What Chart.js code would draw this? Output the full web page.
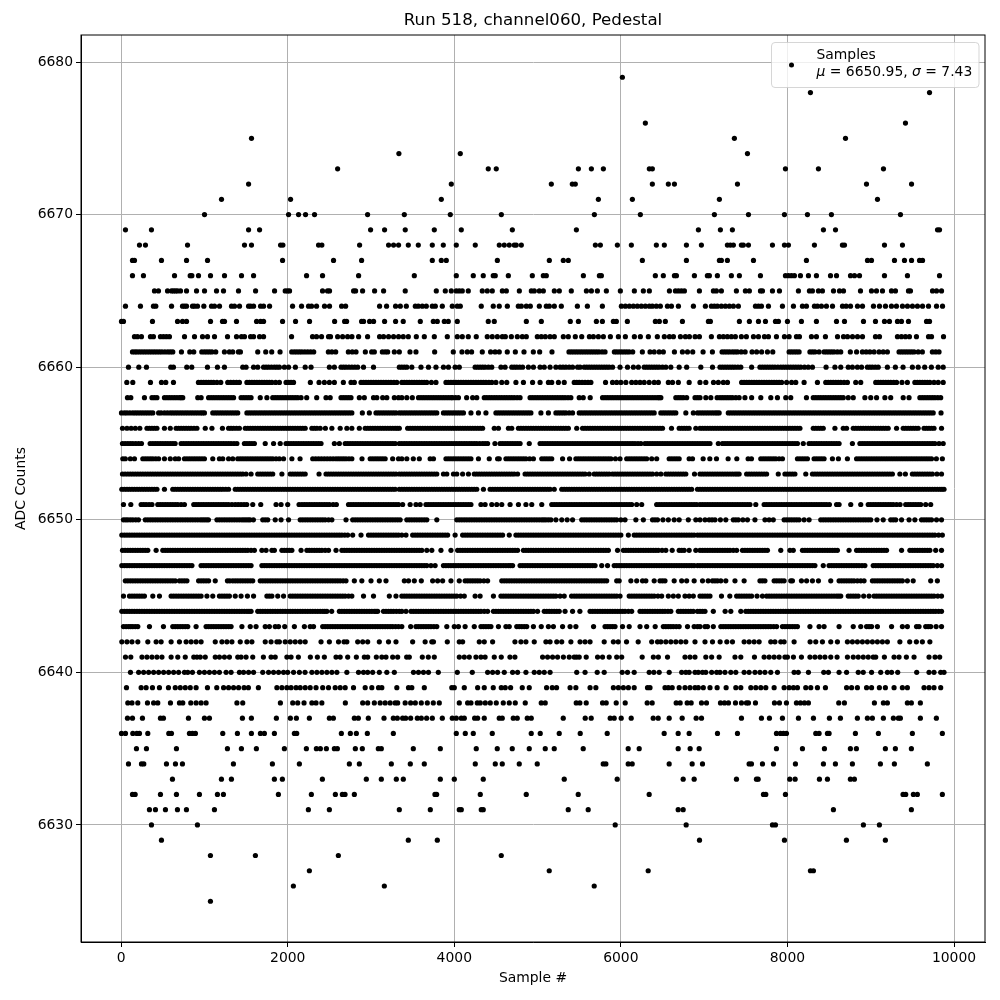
<!DOCTYPE html>
<html><head><meta charset="utf-8">
<script src="https://cdn.jsdelivr.net/npm/chart.js@4/dist/chart.umd.min.js"></script>
<style>html,body{margin:0;padding:0;background:#fff}#w{position:relative;width:1000px;height:1000px}</style>
</head><body><div id="w"><canvas id="c" width="1000" height="1000"></canvas></div>
<script>
const titleText="Run 518, channel060, Pedestal";
const xLabel="Sample #";
const yLabel="ADC Counts";
const legendName="Samples";
const meanText="6650.95";
const sigmaText="7.43";
const xTicks=[0,2000,4000,6000,8000,10000];
const yTicks=[6630,6640,6650,6660,6670,6680];
const a6679=[6018];
const a6678=[8276,9706];
const a6676=[6294,9417];
const a6675=[1565,7363,8697];
const a6674=[3335,4072,7520];
const a6673=[2599,4408,4504,5490,5646,5790,6342,6378,7976,8372,9153];
const a6672=[1530,3964,5165,5417,5453,6378,6570,6643,7400,8949,9490];
const a6671=[1205,2034,3844,5730,6138,7183,9081];
const a6670=[1001,2010,2130,2214,2322,2959,3400,3952,4565,5682,6234,7123,7532,7964,8240,8528,9357];
const a6669=[52,364,1530,1662,2995,3163,3411,3760,4084,4697,5466,6931,7195,7339,8432,8577,9802,9826];
const a6668=[220,292,797,1481,1565,1914,1942,2370,2410,2863,3211,3271,3331,3448,3568,3736,3868,4024,4252,4540,4600,4660,4720,4744,4805,5694,5754,5958,6126,6426,6522,6787,6967,7279,7315,7351,7447,7471,7532,7820,7964,8012,8324,8660,8685,9165,9381];
const a6667=[136,160,484,785,1037,1938,2550,2887,3736,3844,3904,4517,5141,5309,5369,6258,6787,7183,7207,7279,7592,8228,8961,9009,9285,9405,9490,9586,9622];
const a6666=[136,268,641,829,849,929,1073,1241,1445,1590,2226,2418,2851,3520,4024,4228,4348,4468,4492,4649,4937,5069,5105,5550,5742,5766,6414,6510,6643,6667,6883,7039,7063,7159,7327,7423,7676,7976,8012,8048,8084,8156,8252,8348,8517,8589,8757,8805,8865,9165,9441,9826];
const a6665=[400,448,557,605,629,653,677,713,785,905,1001,1145,1229,1409,1614,1842,1970,1998,2022,2418,2478,2502,2791,2815,2899,3043,3151,3411,3784,3892,3964,4024,4060,4096,4168,4336,4396,4456,4577,4625,4781,4925,4961,5021,5069,5201,5261,5405,5586,5646,5718,5826,5994,6162,6270,6342,6583,6655,6691,6727,6763,6943,7111,7147,7207,7387,7495,7543,7676,7700,7820,7904,8132,8264,8300,8372,8420,8553,8625,8673,8877,9009,9069,9141,9249,9297,9453,9477,9742,9790,9850];
const a6664=[52,232,388,416,605,737,761,785,857,881,917,993,1085,1121,1181,1325,1361,1421,1530,1554,1590,1674,1710,1782,2058,2166,2250,2286,2346,2442,2502,2647,2695,3103,3187,3295,3352,3424,3532,3568,3616,3664,3736,3772,3856,3976,4036,4072,4324,4468,4540,4637,4769,4805,4865,4913,5021,5105,5141,5201,5285,5478,5598,5778,6006,6054,6102,6150,6198,6246,6294,6342,6378,6426,6474,6559,6607,6691,6871,7015,7087,7123,7159,7207,7255,7303,7351,7411,7616,7652,7688,7772,7940,8072,8180,8228,8324,8360,8408,8468,8541,8661,8705,8757,8841,8901,9033,9105,9177,9249,9309,9381,9441,9501,9561,9622,9694,9790,9862];
const a6663=[4,28,376,677,737,785,1073,1217,1241,1385,1626,1674,1710,1938,2094,2262,2563,2683,2707,2887,2911,2983,3031,3163,3295,3387,3592,3748,3796,3880,3928,4036,4408,4480,4865,5045,5393,5490,5706,5778,5910,5946,6078,6414,6462,6534,6739,7051,7075,7423,7543,7652,7736,7856,7892,8000,8168,8348,8589,8685,8913,9057,9165,9225,9321,9369,9453,9670,9706];
const a6662=[160,196,244,352,388,472,508,544,580,761,881,977,1037,1121,1277,1385,1445,1481,1554,1590,1662,1710,2046,2298,2346,2406,2490,2514,2599,2659,2719,2771,2851,2959,3103,3151,3211,3271,3331,3387,3448,3544,3640,3760,3916,4036,4096,4168,4264,4396,4456,4517,4577,4613,4685,4757,4817,4865,4997,5045,5093,5149,5201,5309,5369,5453,5530,5622,5670,5730,5790,5874,5970,6054,6162,6234,6330,6438,6522,6583,6631,6715,6775,6823,6891,6943,7087,7183,7231,7279,7327,7375,7447,7507,7592,7652,7724,7772,7868,7964,8020,8108,8144,8288,8348,8456,8601,8673,8721,8781,8841,8901,9057,9105,9321,9369,9417,9465,9549,9694,9730,9874];
const a6661=[136,165,190,220,250,280,310,340,370,400,430,460,490,525,560,590,620,724,824,872,968,1000,1030,1060,1090,1136,1240,1300,1340,1408,1432,1640,1736,1808,1908,2048,2080,2110,2140,2170,2205,2240,2275,2312,2488,2530,2576,2728,2775,2820,2932,3008,3040,3136,3170,3200,3280,3340,3468,3540,3764,3988,4092,4156,4208,4336,4436,4490,4540,4636,4733,4837,4949,5025,5173,5377,5407,5437,5467,5497,5527,5557,5587,5617,5647,5677,5707,5737,5775,5810,5922,5950,5980,6010,6040,6070,6100,6142,6258,6350,6400,6460,6510,6643,6739,6800,6863,6987,7099,7215,7245,7275,7305,7340,7370,7400,7445,7492,7575,7630,7690,7760,7824,8020,8050,8080,8110,8140,8270,8300,8330,8380,8440,8470,8500,8530,8560,8600,8640,8755,8830,8900,8945,8990,9040,9100,9150,9200,9340,9370,9400,9430,9460,9490,9520,9570,9620,9740,9780,9820];
const a6660=[88,212,304,596,628,788,848,1036,1156,1240,1460,1500,1590,1640,1710,1740,1770,1805,1840,1870,1900,1960,2010,2092,2210,2280,2500,2560,2640,2670,2700,2735,2770,2805,2840,2910,3030,3340,3370,3400,3430,3490,3600,3690,3780,3870,3930,4010,4060,4250,4280,4310,4340,4370,4410,4450,4560,4610,4690,4720,4750,4785,4820,4890,4950,5030,5080,5150,5220,5270,5305,5340,5380,5420,5480,5510,5560,5590,5620,5650,5680,5710,5740,5770,5800,5830,5860,5900,5990,6080,6150,6210,6280,6310,6340,6370,6400,6430,6460,6500,6540,6600,6700,6790,6960,7100,7190,7220,7250,7280,7310,7340,7370,7405,7440,7570,7670,7700,7730,7760,7790,7820,7850,7885,7920,7950,7980,8010,8040,8070,8100,8130,8160,8205,8250,8300,8464,8570,8640,8730,8780,8840,8890,8960,8990,9020,9055,9090,9200,9296,9388,9500,9570,9648,9728,9810,9870];
const a6659=[68,140,352,484,536,628,928,960,990,1020,1050,1080,1110,1150,1196,1280,1315,1350,1385,1420,1510,1540,1570,1600,1630,1660,1690,1720,1750,1780,1810,1855,1900,1980,2010,2040,2070,2272,2376,2440,2500,2560,2668,2760,2800,2880,2910,2940,2970,3000,3030,3060,3090,3120,3150,3180,3210,3240,3275,3310,3370,3400,3430,3460,3490,3520,3550,3580,3610,3640,3670,3725,3780,3900,3930,3960,3990,4020,4050,4080,4110,4140,4170,4200,4230,4260,4290,4320,4350,4380,4415,4450,4500,4570,4630,4740,4830,4940,5030,5130,5170,5250,5320,5440,5470,5500,5535,5570,5605,5640,5816,5900,5950,6000,6060,6130,6180,6230,6280,6340,6400,6450,6570,6620,6690,6820,6950,7020,7112,7170,7230,7280,7450,7480,7510,7540,7570,7600,7630,7660,7690,7720,7750,7780,7810,7840,7870,7900,7930,7990,8050,8100,8200,8360,8460,8490,8520,8550,8580,8610,8640,8680,8720,8820,8880,9060,9090,9120,9150,9180,9210,9240,9275,9310,9375,9440,9530,9560,9590,9620,9650,9680,9710,9760,9810,9870];
const a6658=[76,116,280,370,430,520,580,640,700,740,920,960,1050,1110,1170,1230,1290,1350,1440,1500,1560,1670,1750,1820,1880,1940,2000,2060,2120,2160,2228,2348,2460,2510,2640,2700,2760,2860,2920,3030,3070,3140,3190,3280,3330,3370,3430,3496,3570,3630,3690,3750,3810,3870,3930,3980,4050,4148,4220,4270,4360,4420,4480,4540,4600,4660,4720,4790,4910,4970,5030,5090,5150,5210,5270,5330,5400,5500,5548,5632,5780,5840,5900,5960,6020,6080,6140,6200,6260,6320,6380,6440,6480,6660,6720,6790,6890,6920,6950,7020,7080,7156,7220,7280,7340,7420,7490,7570,7680,7800,7880,7980,8040,8228,8310,8370,8430,8490,8550,8610,8670,8790,8930,9000,9070,9170,9240,9390,9460,9590,9650,9710,9770,9840,
 400,550,610,670,720,1080,1140,1200,1260,1320,1470,1530,1850,1910,1970,2030,2090,2670,2730,3600,3660,3720,3780,3840,3900,3960,4015,4390,4450,4510,4570,4630,4690,4755,4940,5000,5060,5120,5180,5240,5300,5365,5810,5870,5930,5990,6050,6110,6170,6230,6290,6350,6410,6460,6690,6750,7190,7250,7310,7380,8340,8400,8460,8520,8580,8640,8730,9620,9680,9740,9805];
const a6657=[4,70,140,200,260,320,380,450,520,590,650,710,770,830,890,950,1000,1100,1160,1220,1280,1340,1400,1510,1570,1630,1690,1750,1810,1870,1930,1990,2050,2110,2170,2230,2290,2350,2410,2470,2530,2590,2650,2710,2770,2896,2980,3060,3120,3180,3240,3300,3340,3370,3430,3490,3550,3610,3670,3730,3790,3870,3930,3990,4050,4110,4200,4290,4380,4500,4560,4620,4680,4740,4800,4860,4920,5040,5130,5220,5280,5340,5420,5500,5560,5620,5680,5740,5800,5860,5920,5980,6040,6100,6160,6220,6280,6340,6400,6480,6540,6600,6660,6780,6870,6920,6950,7010,7070,7130,7180,7290,7350,7410,7470,7530,7590,7650,7710,7770,7830,7890,7950,8010,8070,8130,8190,8250,8310,8370,8430,8490,8550,8610,8670,8730,8790,8850,8910,8970,9030,9090,9150,9210,9270,9330,9390,9450,9510,9570,9630,9690,9750,9844,
 40,105,170,230,290,350,480,555,620,680,740,800,860,920,975,1130,1190,1250,1310,1370,1540,1600,1660,1720,1780,1840,1900,1960,2020,2080,2140,2200,2260,2320,2380,2440,2500,2560,2620,2680,2740,3090,3150,3210,3270,3400,3460,3520,3580,3640,3700,3760,3900,3960,4020,4080,4530,4590,4650,4710,4770,4830,4890,5250,5310,5380,5530,5590,5650,5710,5770,5830,5890,5950,6010,6070,6130,6190,6250,6310,6370,6510,6570,6630,6980,7040,7100,7155,7320,7380,7440,7500,7560,7620,7680,7740,7800,7860,7920,7980,8040,8100,8160,8220,8280,8340,8400,8460,8520,8580,8640,8700,8760,8820,8880,8940,9000,9060,9120,9180,9240,9300,9360,9420,9480,9540,9600,9660,9720];
const a6656=[16,70,120,170,224,310,370,430,520,590,660,720,780,840,910,1010,1090,1216,1290,1350,1420,1490,1550,1610,1670,1730,1790,1850,1910,1970,2030,2090,2150,2210,2290,2350,2390,2452,2530,2630,2710,2770,2860,2930,2990,3050,3110,3170,3230,3290,3340,3440,3500,3560,3620,3680,3740,3800,3860,3920,3980,4040,4100,4160,4220,4280,4340,4480,4530,4650,4690,4770,4830,4890,4950,5010,5070,5130,5190,5250,5310,5370,5470,5540,5600,5660,5720,5780,5840,5900,5960,6020,6080,6140,6200,6260,6320,6380,6440,6500,6608,6700,6760,6820,6900,6950,7010,7070,7130,7190,7250,7310,7370,7430,7490,7550,7610,7670,7730,7790,7850,7910,7970,8030,8090,8150,8310,8370,8430,8570,8670,8710,8790,8850,8910,8970,9030,9090,9150,9210,9310,9390,9450,9510,9570,9640,9700,9760,9850,
 340,400,690,750,810,875,1320,1385,1520,1580,1640,1700,1760,1820,1880,1940,2000,2060,2120,2180,2320,2960,3020,3080,3140,3200,3260,3315,3470,3530,3590,3650,3710,3770,3830,3890,3950,4010,4070,4130,4190,4250,4310,4800,4860,4920,4980,5040,5100,5160,5220,5280,5340,5570,5630,5690,5750,5810,5870,5930,5990,6050,6110,6170,6230,6290,6350,6410,6470,6730,6790,6980,7040,7100,7160,7220,7280,7340,7400,7460,7520,7580,7640,7700,7760,7820,7880,7940,8000,8060,8120,8340,8400,8820,8880,8940,9000,9060,9120,9180,9420,9480,9540,9670,9730];
const a6655=[16,80,140,210,244,348,410,470,530,590,648,720,780,840,900,960,1020,1080,1140,1200,1260,1320,1390,1480,1540,1600,1730,1830,1910,1980,2040,2100,2160,2220,2280,2340,2400,2560,2620,2690,2750,2810,2870,2930,2990,3050,3110,3170,3230,3290,3340,3370,3430,3490,3550,3610,3670,3730,3790,3850,3910,3970,4030,4090,4150,4210,4270,4340,4400,4488,4550,4610,4670,4730,4790,4900,5030,5090,5150,5210,5270,5330,5390,5450,5510,5570,5630,5690,5750,5810,5870,5930,5990,6050,6110,6170,6240,6290,6350,6410,6470,6530,6590,6650,6710,6770,6830,6890,6920,6950,7010,7070,7170,7220,7280,7340,7400,7460,7520,7580,7640,7700,7760,7820,7880,7940,8000,8060,8120,8190,8260,8320,8380,8440,8500,8560,8620,8780,8870,8930,8990,9050,9110,9170,9230,9290,9350,9410,9470,9530,9590,9650,9710,9770,9870,
 48,110,175,380,440,500,560,620,750,810,870,930,990,1050,1110,1170,1230,1290,1355,1510,1570,2010,2070,2130,2190,2250,2310,2370,2720,2780,2840,2900,2960,3020,3080,3140,3200,3260,3400,3460,3520,3580,3640,3700,3760,3820,3880,3940,4000,4060,4120,4180,4240,4305,4370,4580,4640,4700,4760,5060,5120,5180,5240,5300,5360,5420,5480,5540,5600,5660,5720,5780,5840,5900,5960,6020,6080,6140,6205,6320,6380,6440,6500,6560,6620,6680,6740,6800,6860,6980,7040,7250,7310,7370,7430,7490,7550,7610,7670,7730,7790,7850,7910,7970,8030,8090,8290,8350,8410,8470,8530,8590,8900,8960,9020,9080,9140,9200,9260,9320,9380,9440,9500,9560,9620,9680,9740,9820];
const a6654=[20,50,110,160,260,320,380,450,520,590,650,690,760,820,880,940,1000,1100,1180,1220,1290,1340,1400,1460,1520,1580,1640,1700,1760,1820,1900,1950,2050,2148,2300,2370,2440,2510,2580,2640,2700,2770,2892,2990,3050,3110,3170,3260,3330,3370,3430,3508,3580,3710,3750,3900,3960,4020,4080,4140,4200,4290,4420,4520,4540,4620,4680,4740,4800,4860,4950,5050,5110,5170,5300,5384,5460,5520,5580,5640,5700,5760,5820,5880,5990,6070,6130,6190,6250,6310,6430,6580,6640,6700,6820,6860,6988,7068,7148,7288,7392,7528,7568,7680,7740,7800,7860,7940,8120,8180,8240,8320,8380,8440,8540,8612,8720,8830,8890,8950,9010,9070,9130,9190,9250,9310,9370,9430,9490,9550,9610,9670,9730,9788,9860,
 290,350,415,790,850,910,970,1430,1490,1550,1610,1670,1730,1790,1860,2335,2405,2475,2545,2610,2670,2735,3020,3080,3140,3930,3990,4050,4110,4170,4650,4710,4770,4830,4905,5080,5140,5490,5550,5610,5670,5730,5790,5850,5935,6100,6160,6220,6280,6370,6610,6670,7710,7770,7830,7900,8150,8210,8350,8410,8860,8920,8980,9040,9100,9160,9220,9280,9340,9400,9460,9520,9580,9640,9700];
const a6653=[16,80,140,200,260,320,380,440,500,560,620,680,740,800,860,920,980,1040,1100,1160,1220,1280,1340,1400,1460,1500,1560,1640,1700,1760,1820,1930,2030,2090,2150,2210,2376,2460,2520,2580,2640,2700,2760,2820,2880,2940,3000,3060,3120,3180,3240,3300,3340,3370,3430,3490,3550,3610,3670,3730,3790,3870,3910,3990,4030,4100,4170,4240,4300,4360,4420,4480,4540,4600,4660,4720,4760,4850,4910,4970,5030,5090,5150,5210,5270,5330,5390,5450,5510,5570,5620,5680,5740,5800,5860,5900,5960,6020,6080,6140,6200,6260,6320,6380,6480,6540,6600,6660,6720,6780,6884,6950,7010,7070,7130,7190,7250,7310,7370,7420,7510,7570,7630,7690,7750,7890,7970,8030,8090,8220,8300,8360,8420,8480,8540,8600,8660,8720,8780,8840,8900,8960,9020,9080,9140,9200,9260,9350,9416,9500,9560,9620,9680,9740,9850,
 48,110,170,230,290,350,410,470,530,590,650,710,770,830,890,950,1010,1070,1130,1190,1250,1310,1370,1430,1670,1730,1790,2060,2120,2180,2490,2550,2610,2670,2730,2790,2850,2910,2970,3030,3090,3150,3210,3270,3400,3460,3520,3580,3640,3700,3760,4270,4330,4390,4450,4510,4570,4630,4690,4880,4940,5000,5060,5120,5180,5240,5300,5360,5420,5480,5540,5710,5770,5830,5930,5990,6050,6110,6170,6230,6290,6350,6430,6570,6630,6690,6750,6980,7040,7100,7160,7220,7280,7340,7395,7540,7600,7660,7720,8000,8060,8330,8390,8450,8510,8570,8630,8690,8750,8810,8870,8930,8990,9050,9110,9170,9230,9530,9590,9650,9710,9795];
const a6652=[8,70,130,190,250,310,370,430,520,620,680,740,800,860,920,980,1040,1100,1160,1220,1290,1370,1430,1490,1550,1610,1670,1730,1790,1850,1910,1970,2030,2090,2150,2210,2270,2330,2390,2450,2510,2570,2630,2690,2750,2810,2870,2930,2990,3050,3110,3170,3230,3290,3340,3370,3430,3490,3550,3610,3670,3730,3790,3850,3910,3970,4030,4090,4150,4210,4270,4350,4430,4490,4550,4610,4670,4730,4790,4850,4910,4970,5030,5090,5150,5200,5290,5350,5410,5470,5530,5590,5650,5710,5770,5830,5890,5950,6010,6070,6130,6190,6250,6310,6370,6430,6490,6550,6610,6670,6730,6790,6850,6920,6950,7010,7070,7130,7190,7250,7310,7370,7430,7490,7550,7610,7670,7730,7790,7850,7910,7970,8030,8090,8150,8210,8270,8330,8390,8450,8510,8570,8630,8690,8750,8810,8870,8930,8990,9050,9110,9170,9230,9290,9350,9410,9470,9530,9590,9650,9710,9770,9830,9880,
 40,100,160,220,280,340,400,650,710,770,830,890,950,1010,1070,1130,1190,1255,1400,1460,1520,1580,1640,1700,1760,1820,1880,1940,2000,2060,2120,2180,2240,2300,2360,2420,2480,2540,2600,2660,2720,2780,2840,2900,2960,3020,3080,3140,3200,3260,3400,3460,3520,3580,3640,3700,3760,3820,3880,3940,4000,4060,4120,4180,4240,4460,4520,4580,4640,4700,4760,4820,4880,4940,5000,5060,5120,5320,5380,5440,5500,5560,5620,5680,5740,5800,5860,5920,5980,6040,6100,6160,6220,6280,6340,6400,6460,6520,6580,6640,6700,6760,6820,6980,7040,7100,7160,7220,7280,7340,7400,7460,7520,7580,7640,7700,7760,7820,7880,7940,8000,8060,8120,8180,8240,8300,8360,8420,8480,8540,8600,8660,8720,8780,8840,8900,8960,9020,9080,9140,9200,9260,9320,9380,9440,9500,9560,9620,9680,9740,9800,9855];
const a6651=[28,116,240,300,370,440,500,560,620,680,760,872,930,990,1050,1110,1170,1230,1290,1370,1440,1508,1580,1676,1860,1920,2000,2136,2200,2260,2320,2380,2440,2500,2584,2730,2790,2850,2910,2970,3030,3090,3150,3210,3270,3330,3380,3470,3540,3590,3660,3720,3780,3840,3900,3960,4020,4080,4140,4200,4320,4370,4450,4510,4570,4670,4770,4860,4930,5050,5170,5230,5290,5350,5410,5470,5530,5590,5650,5710,5770,5830,5890,5950,6010,6070,6130,6190,6250,6430,6490,6550,6610,6670,6730,6790,6850,6910,6950,7010,7070,7130,7190,7250,7310,7370,7430,7490,7550,7620,7720,7780,7840,7900,7960,8020,8080,8140,8200,8260,8320,8380,8440,8504,8590,8620,8760,8880,8970,9030,9090,9150,9210,9270,9352,9420,9480,9540,9600,9720,
 270,335,470,530,590,650,720,900,960,1020,1080,1140,1200,1260,1330,1405,1475,2170,2230,2290,2350,2410,2470,2545,2760,2820,2880,2940,3000,3060,3120,3180,3240,3300,3690,3750,3810,3870,3930,3990,4050,4110,4170,5200,5260,5320,5380,5440,5500,5560,5620,5680,5740,5800,5860,5920,5980,6040,6100,6460,6520,6580,6640,6700,6760,6820,6880,6980,7040,7100,7160,7220,7280,7340,7400,7460,7520,7750,7810,7870,7930,7990,8050,8110,8170,8230,8290,8350,8410,8470,9000,9060,9120,9180,9240,9310,9450,9510,9570,9660];
const a6650=[28,80,140,208,290,350,410,470,530,590,650,710,770,830,890,950,1000,1048,1150,1210,1270,1330,1390,1450,1500,1548,1588,1700,1760,1850,1920,2010,2150,2210,2270,2330,2390,2450,2530,2700,2780,2840,2900,2960,3020,3080,3140,3200,3260,3320,3350,3430,3490,3550,3610,3670,3790,4030,4090,4150,4210,4270,4330,4390,4450,4510,4570,4630,4690,4750,4810,4870,4930,4990,5050,5100,5160,5220,5290,5420,5530,5590,5650,5710,5770,5830,5890,5950,6050,6180,6270,6380,6440,6570,6640,6700,6810,6900,6950,7010,7060,7130,7260,7350,7410,7520,7610,7730,7830,7960,8020,8080,8140,8260,8400,8460,8520,8580,8640,8700,8760,8820,8880,8940,9000,9150,9240,9300,9370,9460,9530,9610,9670,9730,9850,
 55,110,175,320,380,440,500,560,620,680,740,800,860,920,975,1025,1180,1240,1300,1360,1420,1475,1525,1730,2180,2240,2300,2360,2420,2490,2810,2870,2930,2990,3050,3110,3170,3230,3290,3460,3520,3580,3640,4060,4120,4180,4240,4300,4360,4420,4480,4540,4600,4660,4720,4780,4840,4900,4960,5020,5075,5130,5355,5560,5620,5680,5740,5800,5860,5920,6000,6410,6505,7095,7195,7380,7465,7780,7990,8050,8110,8200,8430,8490,8550,8610,8670,8730,8790,8850,8910,8970,9075,9270,9640,9700,9790];
const a6649=[8,70,130,190,250,310,370,430,490,550,610,670,730,790,850,910,970,1030,1090,1150,1210,1270,1330,1390,1450,1510,1570,1630,1690,1750,1810,1870,1930,1990,2050,2110,2170,2230,2290,2350,2410,2470,2530,2590,2650,2720,2780,2880,2970,3030,3090,3150,3210,3270,3330,3370,3420,3500,3560,3620,3680,3740,3800,3860,3920,4010,4100,4160,4220,4280,4340,4400,4460,4520,4580,4660,4740,4800,4860,4920,4980,5040,5100,5160,5220,5280,5340,5400,5460,5520,5580,5640,5700,5760,5820,5880,5940,6000,6090,6160,6220,6280,6340,6400,6460,6520,6580,6640,6700,6760,6820,6880,6920,6950,7010,7070,7130,7190,7250,7310,7370,7430,7490,7550,7610,7670,7730,7790,7850,7910,7970,8030,8090,8150,8210,8270,8330,8390,8450,8510,8570,8630,8690,8750,8810,8870,8930,8990,9050,9110,9170,9230,9290,9350,9410,9470,9530,9590,9650,9710,9770,9860,
 40,100,160,220,280,340,400,460,520,580,640,700,760,820,880,940,1000,1060,1120,1180,1240,1300,1360,1420,1480,1540,1600,1660,1720,1780,1840,1900,1960,2020,2080,2140,2200,2260,2320,2380,2440,2500,2560,2620,2685,3000,3060,3120,3180,3240,3300,3530,3590,3650,3710,3770,3830,3890,4130,4190,4250,4310,4370,4430,4490,4550,4770,4830,4890,4950,5010,5070,5130,5190,5250,5310,5370,5430,5490,5550,5610,5670,5730,5790,5850,5910,5970,6190,6250,6310,6370,6430,6490,6550,6610,6670,6730,6790,6850,6980,7040,7100,7160,7220,7280,7340,7400,7460,7520,7580,7640,7700,7760,7820,7880,7940,8000,8060,8120,8180,8240,8300,8360,8420,8480,8540,8600,8660,8720,8780,8840,8900,8960,9020,9080,9140,9200,9260,9320,9380,9440,9500,9560,9620,9680,9740,9815];
const a6648=[16,80,140,200,260,320,420,500,560,620,680,740,800,860,920,980,1040,1100,1160,1220,1280,1340,1400,1460,1520,1600,1690,1740,1810,1840,1930,1990,2050,2160,2230,2290,2350,2410,2490,2580,2650,2710,2770,2830,2890,2950,3010,3070,3130,3190,3250,3310,3340,3370,3430,3490,3550,3610,3730,3840,3960,4040,4100,4160,4220,4280,4340,4400,4460,4520,4580,4640,4700,4760,4830,4890,4950,5010,5070,5130,5190,5250,5310,5370,5430,5490,5550,5610,5670,5730,5790,5850,5960,6030,6090,6150,6210,6270,6330,6390,6450,6540,6616,6700,6760,6820,6900,6950,7010,7070,7130,7190,7250,7310,7390,7460,7520,7580,7640,7700,7760,7920,8030,8070,8180,8240,8300,8360,8420,8480,8540,8600,8740,8830,8890,8950,9010,9070,9130,9190,9370,9470,9530,9590,9650,9710,9850,
 48,110,170,230,290,530,590,650,710,770,830,890,950,1010,1070,1130,1190,1250,1310,1370,1430,1490,1560,1960,2020,2260,2320,2380,2450,2680,2740,2800,2860,2920,2980,3040,3100,3160,3220,3280,3400,3460,3520,3580,3670,4070,4130,4190,4250,4310,4370,4430,4490,4550,4610,4670,4730,4860,4920,4980,5040,5100,5160,5220,5280,5340,5400,5460,5520,5580,5640,5700,5760,5820,6060,6120,6180,6240,6300,6360,6420,6495,6730,6980,7040,7100,7160,7220,7280,7350,7490,7550,7610,7670,7730,8210,8270,8330,8390,8450,8510,8570,8860,8920,8980,9040,9100,9160,9500,9560,9620,9680,9780];
const a6647=[8,70,130,190,250,310,370,430,490,550,610,670,730,790,850,960,1020,1080,1140,1200,1260,1320,1380,1440,1500,1560,1690,1750,1810,1870,1930,1990,2050,2110,2170,2230,2290,2350,2410,2470,2530,2590,2650,2710,2770,2830,2890,2950,3010,3070,3130,3190,3250,3310,3340,3370,3430,3490,3550,3610,3670,3770,3870,3930,3990,4050,4110,4170,4230,4290,4350,4410,4470,4530,4590,4650,4700,4790,4850,4910,4970,5030,5090,5150,5210,5270,5330,5390,5450,5510,5570,5630,5690,5770,5840,5920,5980,6040,6100,6160,6220,6280,6340,6400,6460,6520,6580,6640,6700,6760,6820,6880,6920,6950,7010,7070,7130,7190,7250,7310,7370,7430,7490,7550,7610,7670,7730,7790,7850,7910,7970,8030,8090,8150,8210,8270,8330,8430,8500,8560,8620,8680,8740,8800,8860,8930,9030,9090,9150,9210,9270,9330,9390,9450,9510,9570,9630,9690,9750,9850,
 40,100,160,220,280,340,400,460,520,580,640,700,760,820,990,1050,1110,1170,1230,1290,1350,1410,1470,1530,1720,1780,1840,1900,1960,2020,2080,2140,2200,2260,2320,2380,2440,2500,2560,2620,2680,2740,2800,2860,2920,2980,3040,3100,3160,3220,3280,3400,3460,3520,3580,3640,3720,3900,3960,4020,4080,4140,4200,4260,4320,4380,4440,4500,4560,4620,4675,4820,4880,4940,5000,5060,5120,5180,5240,5300,5360,5420,5480,5540,5600,5660,5950,6010,6070,6130,6190,6250,6310,6370,6430,6490,6550,6610,6670,6730,6790,6850,6980,7040,7100,7160,7220,7280,7340,7400,7460,7520,7580,7640,7700,7760,7820,7880,7940,8000,8060,8120,8180,8240,8300,8530,8590,8650,8710,8770,8830,8895,9060,9120,9180,9240,9300,9360,9420,9480,9540,9600,9660,9720,9800];
const a6646=[50,110,170,230,290,350,410,470,530,590,650,700,760,930,990,1050,1130,1276,1340,1400,1460,1520,1580,1670,1730,1790,1850,1910,1970,2030,2090,2150,2210,2270,2330,2390,2450,2510,2570,2630,2700,2800,2890,3000,3100,3180,3400,3450,3520,3604,3740,3800,3860,3960,4060,4130,4190,4250,4310,4400,4570,4630,4690,4750,4810,4870,4930,4990,5050,5110,5170,5230,5290,5350,5410,5470,5530,5590,5650,5710,5770,5830,5950,5980,6120,6190,6260,6300,6400,6470,6530,6640,6730,6790,6880,6980,7048,7100,7160,7260,7370,7480,7670,7730,7840,7900,7960,8040,8060,8168,8230,8300,8372,8520,8620,8680,8740,8800,8880,8920,9020,9080,9140,9200,9260,9320,9380,9510,9720,9800,
 80,140,200,260,320,380,440,500,560,620,730,790,960,1020,1305,1370,1430,1490,1550,1700,1760,1820,1880,1940,2000,2060,2120,2180,2240,2300,2360,2420,2480,2540,2600,2665,4160,4220,4280,4355,4600,4660,4720,4780,4840,4900,4960,5020,5080,5140,5200,5260,5320,5380,5440,5500,5560,5620,5680,5740,5800,6500,7130,7200,7700,7870,7930,8650,8710,8770,8840,9050,9110,9170,9230,9290,9350,9440];
const a6645=[28,100,160,220,280,380,460,600,660,720,780,840,900,960,1100,1180,1240,1300,1440,1516,1590,1750,1810,1950,2030,2090,2150,2210,2270,2330,2390,2450,2510,2570,2630,2690,2770,2910,3030,3220,3300,3370,3430,3490,3550,3610,3670,3730,3790,3850,3910,3970,4030,4120,4250,4310,4470,4560,4620,4680,4740,4800,4860,4920,4980,5040,5100,5160,5220,5320,5408,5470,5530,5590,5650,5710,5770,5830,5890,5950,5990,6100,6160,6220,6280,6340,6400,6490,6570,6690,6770,6870,6950,7010,7070,7208,7308,7390,7450,7510,7570,7700,7750,7810,7870,7930,7990,8050,8110,8170,8230,8290,8350,8410,8470,8530,8590,8640,8730,8790,8850,8980,9040,9100,9160,9220,9280,9340,9400,9460,9520,9580,9640,9700,9760,9850,
 130,190,250,630,690,750,810,870,930,1030,1210,1270,1370,1780,1880,2060,2120,2180,2240,2300,2360,2420,2480,2540,2600,2660,2730,3400,3460,3520,3580,3640,3700,3760,3820,3880,3940,4000,4075,4590,4650,4710,4770,4830,4890,4950,5010,5070,5130,5190,5270,5440,5500,5560,5620,5680,5740,5800,5860,5920,6130,6190,6250,6310,6370,6445,6630,6820,6980,7040,7420,7480,7540,7635,7780,7840,7900,7960,8020,8080,8140,8200,8260,8320,8380,8440,8500,8560,8615,8760,8820,8915,9070,9130,9190,9250,9310,9370,9430,9490,9550,9610,9670,9730,9805];
const a6644=[8,70,130,190,250,310,370,430,490,550,610,670,730,790,850,910,970,1030,1090,1150,1210,1270,1330,1390,1450,1510,1560,1640,1700,1760,1820,1880,1940,2000,2060,2120,2180,2240,2300,2360,2420,2470,2528,2620,2680,2740,2800,2860,2920,2980,3040,3080,3150,3210,3270,3340,3370,3420,3480,3540,3600,3660,3720,3780,3840,3900,3960,4020,4080,4140,4200,4260,4320,4400,4470,4530,4590,4650,4710,4770,4830,4890,4950,5000,5080,5140,5200,5260,5330,5420,5508,5630,5690,5750,5810,5870,5930,5990,6050,6130,6230,6290,6350,6410,6470,6530,6600,6690,6750,6810,6870,6920,6950,7010,7110,7252,7320,7440,7500,7560,7620,7680,7740,7800,7860,7920,7980,8040,8100,8160,8220,8280,8340,8400,8460,8520,8580,8640,8700,8760,8820,8880,8940,9000,9060,9120,9180,9240,9300,9360,9420,9480,9540,9600,9660,9720,9780,9850,
 40,100,160,220,280,340,400,460,520,580,640,700,760,820,880,940,1000,1060,1120,1180,1240,1300,1360,1420,1480,1535,1670,1730,1790,1850,1910,1970,2030,2090,2150,2210,2270,2330,2390,2445,2650,2710,2770,2830,2890,2950,3010,3060,3180,3240,3305,3510,3570,3630,3690,3750,3810,3870,3930,3990,4050,4110,4170,4230,4290,4360,4500,4560,4620,4680,4740,4800,4860,4920,5110,5170,5230,5660,5720,5780,5840,5900,5960,6020,6090,6260,6320,6380,6440,6500,6565,6720,6780,6840,6980,7530,7590,7650,7710,7770,7830,7890,7950,8010,8070,8130,8190,8250,8310,8370,8430,8490,8550,8610,8670,8730,8790,8850,8910,8970,9030,9090,9150,9210,9270,9330,9390,9450,9510,9570,9630,9690,9750,9815];
const a6643=[28,90,140,200,340,508,620,680,740,800,900,1020,1080,1140,1200,1260,1320,1450,1550,1620,1730,1780,1850,1890,1964,2080,2200,2270,2310,2420,2480,2540,2600,2660,2720,2780,2840,2900,2960,3020,3080,3140,3200,3260,3330,3370,3476,3540,3600,3660,3720,3790,3910,4000,4050,4130,4240,4320,4380,4440,4530,4620,4660,4750,4810,4870,4950,5044,5130,5190,5300,5390,5460,5672,5810,5870,5930,6020,6100,6230,6310,6412,6510,6570,6630,6700,6800,6880,6920,6950,7010,7110,7200,7260,7320,7380,7440,7500,7560,7620,7680,7740,7800,7870,7940,8000,8060,8120,8270,8380,8440,8620,8790,8880,8950,9010,9080,9250,9380,9440,9550,9580,9660,9720,9850,
 60,115,170,650,710,770,1050,1110,1170,1230,1290,2450,2510,2570,2630,2690,2750,2810,2870,2930,2990,3050,3110,3170,3230,3295,3570,3630,3690,3755,4350,4410,4780,4840,5840,5900,6540,6600,6665,7040,7230,7290,7350,7410,7470,7530,7590,7650,7710,7770,7835,7970,8030,8090,8980,9690,9785];
const a6642=[8,70,130,200,320,420,480,600,700,780,840,900,960,1130,1210,1270,1330,1430,1510,1570,1730,1800,1870,1900,1970,2030,2090,2150,2210,2400,2500,2610,2676,2710,2840,2900,2960,3100,3210,3300,3500,3650,3730,3750,3916,4060,4100,4300,4360,4460,4728,4800,4860,4960,5100,5150,5230,5290,5400,5510,5570,5630,5800,5910,5968,6068,6208,6370,6440,6480,6540,6600,6660,6720,6780,6890,7010,7100,7192,7272,7340,7480,7540,7600,7660,7800,7850,7920,7960,8080,8272,8340,8420,8520,8600,8720,8780,8840,8900,8960,9020,9080,9140,9200,9350,9468,9548,9620,9710];
const a6641=[52,116,250,310,370,430,490,600,680,770,872,910,950,1010,1130,1180,1240,1300,1400,1440,1500,1580,1708,1800,1850,1990,2040,2128,2272,2356,2440,2580,2630,2720,2824,2920,2960,3064,3130,3180,3260,3320,3428,3460,3616,3688,3760,4060,4120,4180,4260,4320,4370,4480,4564,4668,4728,5060,5120,5180,5240,5310,5380,5440,5500,5468,5584,5720,5780,5860,5950,6010,6256,6390,6450,6560,6770,6830,6890,7020,7090,7180,7370,7440,7604,7720,7780,7840,7900,7970,8000,8072,8168,8270,8330,8390,8450,8520,8596,8720,8790,8850,8910,8970,9030,9060,9164,9280,9340,9428,9520,9700,9772,9828];
const a6640=[112,210,270,330,390,450,510,570,630,690,760,800,856,940,1000,1060,1120,1180,1260,1320,1420,1470,1530,1590,1700,1770,1830,1890,1950,2000,2070,2140,2208,2290,2350,2410,2470,2530,2590,2710,2850,2910,2960,3020,3100,3190,3280,3510,3570,3630,3690,3808,4036,4216,4400,4460,4520,4600,4700,4760,4860,4960,5020,5080,5150,5470,5570,5716,5800,6016,6080,6160,6340,6396,6460,6580,6730,6780,6820,6890,6930,6980,7020,7090,7150,7190,7250,7320,7380,7480,7540,7610,7670,7730,7800,7880,8080,8130,8252,8436,8492,8620,8710,8850,8910,9010,9120,9200,9250,9324,9552,9700,9760,9840,9880];
const a6639=[64,240,300,376,460,568,650,710,770,830,900,1036,1148,1230,1290,1350,1410,1476,1528,1648,1870,1930,1990,2040,2100,2150,2210,2270,2340,2420,2490,2570,2630,2690,2790,2930,3010,3090,3130,3310,3450,3490,3640,3970,4000,4120,4280,4360,4468,4564,4612,4676,4816,4900,5108,5176,5228,5390,5460,5630,5700,5910,5970,6030,6090,6160,6320,6350,6530,6570,6616,6700,6770,6830,6890,6930,6990,7070,7156,7264,7380,7440,7560,7620,7680,7740,7840,7960,8020,8072,8120,8220,8280,8360,8456,8710,8770,8840,8950,9010,9104,9176,9280,9380,9440,9640,9700,9760,9840];
const a6638=[80,130,200,316,390,440,592,700,740,836,900,960,1020,1390,1460,1912,2060,2120,2196,2290,2340,2410,2692,2900,2960,3040,3110,3170,3230,3290,3320,3410,3476,3532,3604,3676,3748,3820,4060,4160,4200,4276,4312,4372,4432,4504,4588,4660,4732,4852,5044,5092,5464,5508,5584,5780,5824,5944,6052,6316,6376,6664,6712,6796,6844,6968,7028,7196,7244,7292,7376,7448,7508,7532,7616,7844,7904,7988,8108,8156,8204,8252,8616,8684,9044,9152,9200,9440,9488,9596];
const a6637=[76,136,256,472,508,808,1000,1060,1456,1564,1864,2032,2104,2260,2500,2548,2800,2848,2968,3156,3268,3316,3380,3416,3476,3556,3604,3668,3736,3856,3976,4024,4084,4120,4244,4280,4360,4540,4576,4708,4756,4876,4924,5308,5572,5644,5872,5920,6004,6124,6388,6448,6580,6736,6904,6968,7448,7688,7784,7940,8132,8312,8504,8636,8840,8960,9020,9152,9272,9332,9356,9596,9788];
const a6636=[4,52,140,188,220,320,572,604,820,856,892,1220,1396,1564,1672,1720,1840,2080,2108,2644,2752,2824,2956,3268,4024,4132,4228,4456,4924,5032,5260,5512,5836,6520,6688,6820,7160,7400,7868,7916,7952,7988,8340,8380,8480,8500,8816,9092,9500,9860];
const a6635=[184,304,664,1276,1444,1624,1960,2224,2344,2392,2464,2560,2596,2812,2896,3088,3124,3508,3832,4264,4516,4696,4900,5092,5200,5548,6088,6220,6688,6832,6940,7868,8180,8444,8756,8828,9176,9296,9488];
const a6634=[88,244,272,544,652,736,1348,1816,2140,2740,2860,3244,3472,3640,4252,4492,4576,4780,4996,5788,5820,6088,6136,6580,6856,6980,7540,7568,7700,7832,8096,8432,8576,8780,9116,9284,9680];
const a6633=[616,1204,1324,1840,1936,2416,2944,3124,3304,3388,3832,4000,4348,5320,5956,6748,6880,7388,7628,7648,8028,8092,8384,8480,8756,8804];
const a6632=[136,168,472,664,940,1156,1228,1888,2284,2572,2656,2688,2800,3768,3788,4312,4864,5488,6340,7712,7740,7976,9388,9420,9512,9560,9860];
const a6631=[340,412,532,676,784,1120,2248,2500,3340,3712,4060,4084,4324,4348,5368,5608,6688,6748,8552,9488];
const a6630=[364,916,5932,6784,7820,7856,8912,9104];
const a6629=[484,3448,3796,6944,7964,8708,9176];
const a6628=[1072,1612,2608,4564];
const a6627=[2260,5140,6328,8276,8312];
const a6626=[2068,3160,5680];
const a6625=[1072];
const levels=[6679,6678,6676,6675,6674,6673,6672,6671,6670,6669,6668,6667,6666,6665,6664,6663,6662,6661,6660,6659,6658,6657,6656,6655,6654,6653,6652,6651,6650,6649,6648,6647,6646,6645,6644,6643,6642,6641,6640,6639,6638,6637,6636,6635,6634,6633,6632,6631,6630,6629,6628,6627,6626,6625];
const rows=[a6679,a6678,a6676,a6675,a6674,a6673,a6672,a6671,a6670,a6669,a6668,a6667,a6666,a6665,a6664,a6663,a6662,a6661,a6660,a6659,a6658,a6657,a6656,a6655,a6654,a6653,a6652,a6651,a6650,a6649,a6648,a6647,a6646,a6645,a6644,a6643,a6642,a6641,a6640,a6639,a6638,a6637,a6636,a6635,a6634,a6633,a6632,a6631,a6630,a6629,a6628,a6627,a6626,a6625];
const pts=[];
rows.forEach((r,i)=>r.forEach(s=>pts.push({x:s,y:levels[i]})));
const FF='"DejaVu Sans"';
const frame={id:'frame',afterDatasetsDraw(ch){
  const {ctx,chartArea:a}=ch;
  ctx.save();ctx.strokeStyle='#000';ctx.lineWidth=1;
  ctx.strokeRect(a.left,a.top,a.right-a.left,a.bottom-a.top);
  const bx=771.5,by=42.5,bw=207.5,bh=45,r=3.5;
  ctx.beginPath();ctx.roundRect(bx,by,bw,bh,r);
  ctx.fillStyle='rgba(255,255,255,0.8)';ctx.fill();
  ctx.strokeStyle='rgba(204,204,204,0.8)';ctx.stroke();
  ctx.fillStyle='#000';
  ctx.beginPath();ctx.arc(791.5,65,2.5,0,Math.PI*2);ctx.fill();
  ctx.textBaseline='alphabetic';ctx.textAlign='left';
  ctx.font='13.9px '+FF;ctx.fillText(legendName,816.5,59);
  let x=816.5;const y=76;
  const seg=(t,it)=>{ctx.font=(it?'italic ':'')+'13.9px '+FF;ctx.fillText(t,x,y);x+=ctx.measureText(t).width;};
  seg('μ',1);seg(' = '+meanText+', ',0);seg('σ',1);seg(' = '+sigmaText,0);
  ctx.restore();
}};
new Chart(document.getElementById('c'),{
  type:'scatter',
  data:{datasets:[{label:legendName,data:pts,backgroundColor:'#000',borderWidth:0,pointRadius:2.6,pointHoverRadius:2.6}]},
  plugins:[frame],
  options:{responsive:false,animation:false,parsing:false,normalized:true,
    layout:{padding:{left:0,right:15,top:0,bottom:0}},
    plugins:{legend:{display:false},tooltip:{enabled:false},
      title:{display:true,text:titleText,fullSize:false,color:'#000',font:{family:FF,size:16.67,weight:'normal',lineHeight:1.2},padding:{top:11,bottom:4}}},
    scales:{
      x:{type:'linear',min:-482,max:10372,
        afterBuildTicks(s){s.ticks=xTicks.map(v=>({value:v}));},
        afterFit(s){s.height=58;s.paddingRight=0;s.paddingLeft=0;},
        grid:{color:'#b0b0b0',lineWidth:1,tickLength:5,tickColor:'#000'},
        border:{color:'#000',width:1},
        ticks:{autoSkip:false,maxRotation:0,color:'#000',padding:3,font:{family:FF,size:13.9},callback:v=>String(v)},
        title:{display:true,text:xLabel,color:'#000',font:{family:FF,size:13.9,weight:'normal'},padding:{top:2,bottom:13}}},
      y:{type:'linear',min:6622.33,max:6681.77,
        afterBuildTicks(s){s.ticks=yTicks.map(v=>({value:v}));},
        afterFit(s){s.width=81;s.paddingTop=0;s.paddingBottom=0;},
        grid:{color:'#b0b0b0',lineWidth:1,tickLength:5,tickColor:'#000'},
        border:{color:'#000',width:1},
        ticks:{autoSkip:false,color:'#000',padding:3,font:{family:FF,size:13.9},callback:v=>String(v)},
        title:{display:true,text:yLabel,color:'#000',font:{family:FF,size:13.9,weight:'normal'},padding:{top:13,bottom:0}}}
    }
  }
});
</script></body></html>
